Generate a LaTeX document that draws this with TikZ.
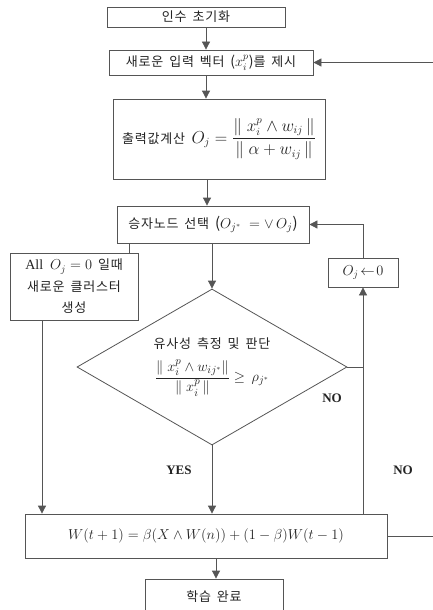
\documentclass[tikz,border=0pt]{standalone}
\usepackage{amsmath,amssymb}
\usepackage{fontspec}
\setmainfont{Liberation Serif}
\newfontfamily\kr[LetterSpace=6,WordSpace=1.6]{Noto Sans CJK KR}
\usetikzlibrary{arrows.meta,shapes.geometric}
\definecolor{lc}{RGB}{85,85,85}
\definecolor{tc}{RGB}{35,35,35}
\newcommand{\mbig}[1]{{\fontsize{14}{16}\selectfont #1}}
\newcommand{\mhuge}[1]{{\fontsize{16}{18}\selectfont #1}}
\begin{document}
\begin{tikzpicture}[x=1pt,y=-1pt,
  box/.style={draw=lc, line width=0.8pt, inner sep=0pt, text=tc, align=center,
    font=\kr\fontsize{13}{21.5}\selectfont},
  arr/.style={draw=lc, line width=0.8pt, -{Triangle[length=8pt,width=8pt]}},
  ln/.style={draw=lc, line width=0.8pt},
  lbl/.style={font=\fontsize{13}{15}\selectfont\bfseries, text=tc}]
\useasboundingbox (0,0) rectangle (433,610);
\fill[white] (0,0) rectangle (433,610);
\clip (0,0) rectangle (433,610);

\node[box, minimum width=178pt, minimum height=20pt] (b1) at (196,17) {인수 초기화};
\node[box, minimum width=204pt, minimum height=25pt] (b2) at (211,62.5) {새로운 입력 벡터 \mbig{($x_i^p$)}를 제시};
\node[box, minimum width=212pt, minimum height=80pt] (b3) at (219,139)
  {출력값계산\enspace\mhuge{$O_j=\dfrac{\|\;x_i^p\wedge w_{ij}\,\|}{\|\;\alpha+w_{ij}\,\|}$}};
\node[box, minimum width=192pt, minimum height=37pt] (b4) at (213,224.5)
  {승자노드 선택 {\fontsize{15}{17}\selectfont($O_{j^*}\;=\vee\, O_j$)}};
\node[box, minimum width=128pt, minimum height=67pt] (bA) at (74,286.5)
  {\mbig{\rmfamily All\ \ $O_j=0$} 일때\\새로운 클러스터\\생성};
\node[box, minimum width=70pt, minimum height=29pt] (bO) at (363,272.5) {\mbig{$O_j\!\leftarrow\!0$}};
\node[draw=lc, line width=0.8pt, diamond, aspect=1.73, minimum width=270pt,
  minimum height=156pt, inner sep=0pt, align=center, text=tc,
  font=\kr\fontsize{13}{16}\selectfont] (dia) at (212,367)
  {유사성 측정 및 판단\\[9pt]{\fontsize{15}{17}\selectfont$\dfrac{\|\;x_i^p\wedge w_{ij^*}\|}{\|\;x_i^p\,\|}\ge\,\rho_{j^*}$}};
\node[box, minimum width=362pt, minimum height=44pt, font=\fontsize{15}{17}\selectfont] (bW) at (206,536)
  {$W(t+1)=\beta(X\wedge W(n))+(1-\beta)W(t-1)$};
\node[box, minimum width=138pt, minimum height=36pt] (bE) at (214,597) {학습 완료};

\coordinate (cA) at (206,0);
\coordinate (cB) at (207,0);
\coordinate (cL) at (129,0);
\coordinate (cAll) at (42,0);
\coordinate (cR) at (363,0);
\coordinate (cRR) at (440,0);
\coordinate (cW) at (216,0);

\draw[arr] (b1.south -| cA) -- (b2.north -| cA);
\draw[arr] (b2.south -| cA) -- (b3.north -| cA);
\draw[arr] (b3.south -| cB) -- (b4.north -| cB);
\draw[arr] (b4.south -| dia.north) -- (dia.north);
\draw[ln] (b4.south -| cL) -- (bA.north -| cL);
\draw[arr] (bA.south -| cAll) -- (bW.north -| cAll);
\draw[arr] (dia.south) -- (bW.north -| dia.south);
\draw[arr] (bW.north -| cR) -- (bO.south);
\draw[ln] (dia.east) -- (dia.east -| cR);
\draw[arr] (bO.north) |- (b4.east);
\draw[arr] (bW.east) -- (bW.east -| cRR) |- (b2.east);
\draw[arr] (bW.south -| cW) -- (bE.north -| cW);

\node[lbl] (no1) at (332,398) {NO};
\node[lbl] (yes) at (179,470) {YES};
\node[lbl] (no2) at (403,470) {NO};
\end{tikzpicture}
\end{document}
